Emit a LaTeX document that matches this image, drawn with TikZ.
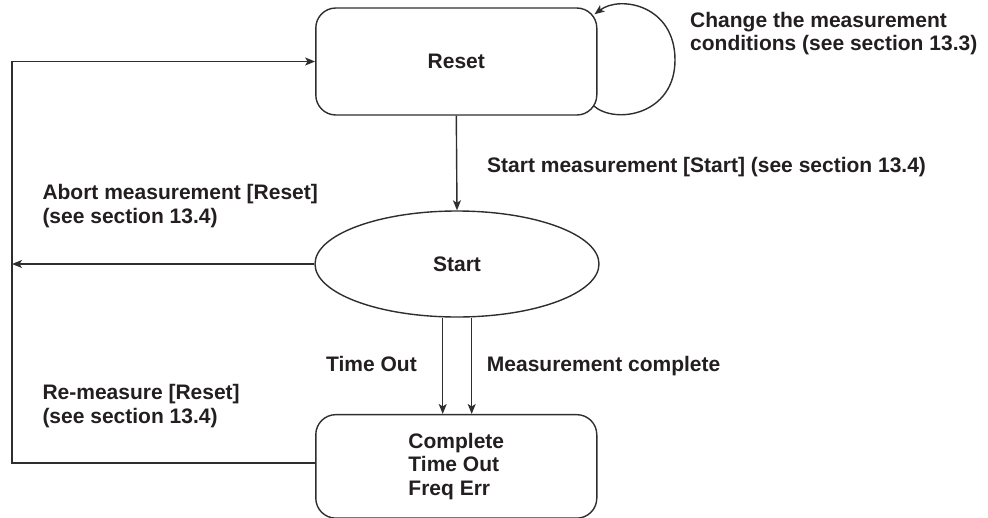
\documentclass[tikz,border=0pt]{standalone}
\usepackage{fontspec}
\setmainfont{Liberation Sans}
\usetikzlibrary{shapes.geometric,arrows.meta,calc}
\definecolor{ink}{HTML}{231F20}
\definecolor{linec}{HTML}{2E2E2E}
\tikzset{
  every node/.style={font=\bfseries\fontsize{21}{23.3}\selectfont, text=ink},
  statebox/.style={draw=linec, line width=1.4pt, rectangle, rounded corners=20pt,
    minimum width=281pt, inner sep=0pt},
  stateell/.style={draw=linec, line width=1.4pt, ellipse, minimum width=284pt,
    minimum height=106pt, inner sep=0pt},
  conn/.style={draw=linec, line width=1.4pt},
  arr/.style={conn, -{Stealth[length=10pt,width=8pt,inset=2.5pt]}},
  lbl/.style={anchor=base west, inner sep=0pt, align=left},
}
\begin{document}
\begin{tikzpicture}[x=1pt,y=-1pt]
\useasboundingbox (0,0) rectangle (988,517);
% states
\node[statebox, minimum height=107pt] (reset) at (456.3,61.5) {Reset};
\node[stateell] (start) at (457,264) {Start};
\node[statebox, minimum height=103.5pt, align=left] (done) at (456.3,466.4) {Complete\\Time Out\\Freq Err};
% left return path coordinates
\coordinate (lt) at (12,61.5);
\coordinate (lb) at (12,463);
% connectors
\draw[arr] (reset.south) -- (start.north);
\draw[arr] ($(reset.south east)+(-4,-10)$) .. controls (615,125) and (675,115) .. (675,60)
  .. controls (675,5) and (620,-5) .. ($(reset.north east)+(-3,7)$);
\draw[arr] (start.west) -- (start.west -| lt);
\draw[arr] ([xshift=-14.3pt]start.south) -- ([xshift=-13.6pt]done.north);
\draw[arr] ([xshift=14.7pt]start.south) -- ([xshift=15.4pt]done.north);
\draw[arr] (lb -| done.west) -- (lb) -- (lt) -- (reset.west);
% labels
\node[lbl] (lchange) at (690,50.7) {Change the measurement\\conditions (see section 13.3)};
\node[lbl] (lstartm) at (487,172.3) {Start measurement [Start] (see section 13.4)};
\node[lbl] (labort) at (42.3,223) {Abort measurement [Reset]\\(see section 13.4)};
\node[lbl] (ltime) at (326,371.7) {Time Out};
\node[lbl] (lmeas) at (486.7,371.7) {Measurement complete};
\node[lbl] (lremeas) at (42.3,423) {Re-measure [Reset]\\(see section 13.4)};
\end{tikzpicture}
\end{document}
